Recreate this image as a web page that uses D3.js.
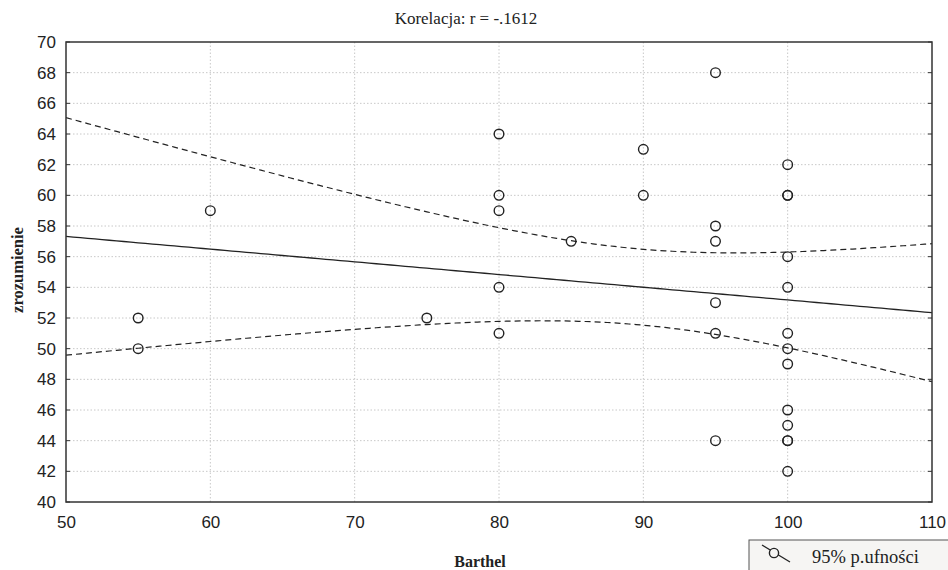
<!DOCTYPE html>
<html><head><meta charset="utf-8">
<script src="https://cdn.jsdelivr.net/npm/d3@7"></script>
<style>body{margin:0;background:#fff}svg{display:block}</style>
</head><body>
<svg id="c" width="948" height="570"></svg>
<script>
const barthel = [55,55,60,75,80,80,80,80,80,85,90,90,95,95,95,95,95,95,100,100,100,100,100,100,100,100,100,100,100,100,100];
const zrozumienie = [52,50,59,52,64,60,59,54,51,57,63,60,68,58,57,53,51,44,62,60,60,56,54,51,50,49,46,45,44,44,42];
const xTicks = [50,60,70,80,90,100,110];
const yTicks = [40,42,44,46,48,50,52,54,56,58,60,62,64,66,68,70];
const title = "Korelacja: r = -.1612";
const xLabel = "Barthel";
const yLabel = "zrozumienie";
const legendLabel = "95% p.ufności";

const svg = d3.select("#c");
const L=66, R=932, T=42, B=502;
const x = d3.scaleLinear().domain([50,110]).range([L,R]);
const y = d3.scaleLinear().domain([40,70]).range([B,T]);

// regression + 95% CI of mean
const n = barthel.length;
const mx = d3.mean(barthel), my = d3.mean(zrozumienie);
let sxx=0, sxy=0, syy=0;
for(let i=0;i<n;i++){const dx=barthel[i]-mx, dy=zrozumienie[i]-my; sxx+=dx*dx; sxy+=dx*dy; syy+=dy*dy;}
const b = sxy/sxx, a = my - b*mx;
const s = Math.sqrt((syy - sxy*sxy/sxx)/(n-2));
const tcrit = 2.045;
const xs = d3.range(50,110.01,0.5);
const fit = v => a + b*v;
const hw = v => tcrit*s*Math.sqrt(1/n + (v-mx)*(v-mx)/sxx);

// grid
const g = svg.append("g");
g.selectAll(".gx").data(xTicks.slice(1,-1)).join("line")
  .attr("x1",d=>x(d)).attr("x2",d=>x(d)).attr("y1",T).attr("y2",B)
  .attr("stroke","#c8c8c8").attr("stroke-width",1).attr("stroke-dasharray","1.5,2");
g.selectAll(".gy").data(yTicks.slice(1,-1)).join("line")
  .attr("y1",d=>y(d)).attr("y2",d=>y(d)).attr("x1",L).attr("x2",R)
  .attr("stroke","#c8c8c8").attr("stroke-width",1).attr("stroke-dasharray","1.5,2");

svg.append("defs").append("clipPath").attr("id","cp").append("rect")
  .attr("x",L).attr("y",T).attr("width",R-L).attr("height",B-T);
const plot = svg.append("g").attr("clip-path","url(#cp)");

const line = d3.line().x(d=>x(d[0])).y(d=>y(d[1]));
plot.append("path").attr("d",line(xs.map(v=>[v,fit(v)])))
  .attr("fill","none").attr("stroke","#222").attr("stroke-width",1.3);
plot.append("path").attr("d",line(xs.map(v=>[v,fit(v)+hw(v)])))
  .attr("fill","none").attr("stroke","#222").attr("stroke-width",1.2).attr("stroke-dasharray","6,4");
plot.append("path").attr("d",line(xs.map(v=>[v,fit(v)-hw(v)])))
  .attr("fill","none").attr("stroke","#222").attr("stroke-width",1.2).attr("stroke-dasharray","6,4");

// points
svg.append("g").selectAll("circle").data(barthel.map((v,i)=>[v,zrozumienie[i]])).join("circle")
  .attr("cx",d=>x(d[0])).attr("cy",d=>y(d[1])).attr("r",4.8)
  .attr("fill","none").attr("stroke","#222").attr("stroke-width",1.4);

// frame
svg.append("rect").attr("x",L).attr("y",T).attr("width",R-L).attr("height",B-T)
  .attr("fill","none").attr("stroke","#333").attr("stroke-width",1.5);

// axes
const xa = svg.append("g").attr("transform",`translate(0,${B})`)
  .call(d3.axisBottom(x).tickValues(xTicks).tickSize(0).tickPadding(12).tickFormat(d3.format("d")));
const ya = svg.append("g").attr("transform",`translate(${L},0)`)
  .call(d3.axisLeft(y).tickValues(yTicks).tickSize(0).tickPadding(10).tickFormat(d3.format("d")));
[xa,ya].forEach(ax=>{ax.select(".domain").remove();
  ax.selectAll("text").attr("font-family","Liberation Sans, Arial, sans-serif").attr("font-size",17).attr("fill","#222");});
xa.selectAll("text").attr("dy","0.85em");
// inward ticks left/right
svg.append("g").selectAll("line").data(yTicks).join("line")
  .attr("x1",L).attr("x2",L+4).attr("y1",d=>y(d)).attr("y2",d=>y(d)).attr("stroke","#333");
svg.append("g").selectAll("line").data(yTicks).join("line")
  .attr("x1",R-4).attr("x2",R).attr("y1",d=>y(d)).attr("y2",d=>y(d)).attr("stroke","#333");

// texts
const serif = "Liberation Serif, Times New Roman, serif";
svg.append("text").attr("x",466).attr("y",24).attr("text-anchor","middle")
  .attr("font-family",serif).attr("font-size",17).attr("fill","#222").text(title);
svg.append("text").attr("x",480).attr("y",567).attr("text-anchor","middle")
  .attr("font-family",serif).attr("font-weight","bold").attr("font-size",16).attr("fill","#222").text(xLabel);
svg.append("text").attr("transform","translate(23,270) rotate(-90)").attr("text-anchor","middle")
  .attr("font-family",serif).attr("font-weight","bold").attr("font-size",16.5).attr("fill","#222").text(yLabel);

// legend
const lg = svg.append("g");
lg.append("rect").attr("x",749).attr("y",540).attr("width",210).attr("height",40)
  .attr("fill","#f6f5f3").attr("stroke","#555").attr("stroke-width",1);
lg.append("line").attr("x1",762).attr("y1",545).attr("x2",790).attr("y2",562).attr("stroke","#222").attr("stroke-width",1.3);
lg.append("circle").attr("cx",774).attr("cy",553).attr("r",4.6).attr("fill","#f6f5f3").attr("stroke","#222").attr("stroke-width",1.4);
lg.append("text").attr("x",812).attr("y",563)
  .attr("font-family",serif).attr("font-size",18.5).attr("fill","#222").text(legendLabel);
</script>
</body></html>
